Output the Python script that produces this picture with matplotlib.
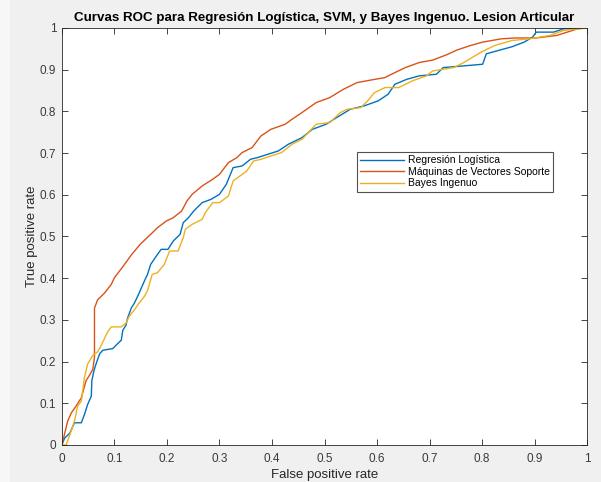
import matplotlib
matplotlib.use("Agg")
import matplotlib.pyplot as plt

title = "Curvas ROC para Regresión Logística, SVM, y Bayes Ingenuo. Lesion Articular"
labels = ["Regresión Logística", "Máquinas de Vectores Soporte", "Bayes Ingenuo"]
xticks = [0, 0.1, 0.2, 0.3, 0.4, 0.5, 0.6, 0.7, 0.8, 0.9, 1]
xtick_labels = ["0", "0.1", "0.2", "0.3", "0.4", "0.5", "0.6", "0.7", "0.8", "0.9", "1"]

lr_fpr = [0, 0.005, 0.015, 0.024, 0.037, 0.043, 0.049, 0.056, 0.057, 0.061, 0.065, 0.072, 0.078, 0.097,
          0.103, 0.113, 0.116, 0.122, 0.125, 0.132, 0.138, 0.147, 0.157, 0.163, 0.169, 0.182, 0.189, 0.202,
          0.212, 0.225, 0.231, 0.241, 0.251, 0.267, 0.284, 0.300, 0.313, 0.326, 0.343, 0.359, 0.372, 0.392,
          0.412, 0.431, 0.457, 0.477, 0.503, 0.523, 0.549, 0.575, 0.602, 0.621, 0.634, 0.657, 0.680, 0.713,
          0.726, 0.765, 0.801, 0.808, 0.831, 0.857, 0.880, 0.896, 0.903, 0.936, 0.955, 1.0]
lr_tpr = [0, 0.016, 0.028, 0.053, 0.053, 0.073, 0.097, 0.117, 0.154, 0.178, 0.194, 0.219, 0.227, 0.231,
          0.239, 0.251, 0.275, 0.287, 0.304, 0.328, 0.340, 0.364, 0.393, 0.409, 0.433, 0.457, 0.469, 0.469,
          0.489, 0.505, 0.533, 0.545, 0.561, 0.581, 0.589, 0.601, 0.625, 0.665, 0.669, 0.685, 0.689, 0.697,
          0.705, 0.721, 0.737, 0.757, 0.769, 0.785, 0.805, 0.813, 0.825, 0.841, 0.865, 0.877, 0.885, 0.889,
          0.905, 0.909, 0.913, 0.938, 0.946, 0.955, 0.966, 0.978, 0.990, 0.990, 0.998, 1.0]

svm_fpr = [0, 0.011, 0.018, 0.027, 0.037, 0.046, 0.054, 0.059, 0.062, 0.062, 0.068, 0.081, 0.094, 0.100,
           0.117, 0.133, 0.149, 0.169, 0.182, 0.199, 0.212, 0.228, 0.238, 0.248, 0.267, 0.287, 0.300, 0.317,
           0.333, 0.343, 0.362, 0.379, 0.398, 0.425, 0.438, 0.457, 0.484, 0.510, 0.536, 0.562, 0.588, 0.615,
           0.634, 0.654, 0.680, 0.706, 0.733, 0.752, 0.778, 0.801, 0.837, 0.864, 0.903, 0.942, 0.962, 0.982, 1.0]
svm_tpr = [0, 0.057, 0.077, 0.093, 0.113, 0.154, 0.170, 0.182, 0.210, 0.328, 0.348, 0.364, 0.385, 0.401,
           0.429, 0.457, 0.481, 0.505, 0.521, 0.537, 0.545, 0.561, 0.585, 0.601, 0.621, 0.637, 0.649, 0.677,
           0.689, 0.701, 0.713, 0.741, 0.757, 0.769, 0.781, 0.797, 0.821, 0.833, 0.853, 0.869, 0.875, 0.881,
           0.893, 0.905, 0.917, 0.923, 0.936, 0.947, 0.958, 0.966, 0.974, 0.976, 0.976, 0.982, 0.990, 0.998, 1.0]

nb_fpr = [0, 0.008, 0.015, 0.024, 0.030, 0.037, 0.043, 0.049, 0.059, 0.068, 0.075, 0.081, 0.087, 0.094,
          0.113, 0.122, 0.128, 0.138, 0.147, 0.157, 0.163, 0.172, 0.182, 0.195, 0.205, 0.221, 0.231, 0.235,
          0.248, 0.267, 0.273, 0.287, 0.300, 0.317, 0.326, 0.339, 0.352, 0.365, 0.379, 0.398, 0.418, 0.438,
          0.457, 0.484, 0.510, 0.530, 0.543, 0.569, 0.582, 0.595, 0.615, 0.641, 0.667, 0.694, 0.706, 0.746,
          0.765, 0.798, 0.824, 0.857, 0.890, 0.929, 0.955, 1.0]
nb_tpr = [0, 0.0, 0.024, 0.057, 0.093, 0.105, 0.162, 0.194, 0.215, 0.223, 0.239, 0.255, 0.271, 0.283,
          0.283, 0.292, 0.308, 0.324, 0.340, 0.356, 0.370, 0.409, 0.413, 0.433, 0.465, 0.465, 0.497, 0.517,
          0.529, 0.541, 0.557, 0.581, 0.581, 0.597, 0.633, 0.645, 0.657, 0.681, 0.685, 0.693, 0.701, 0.721,
          0.733, 0.769, 0.773, 0.797, 0.805, 0.809, 0.825, 0.845, 0.857, 0.857, 0.873, 0.885, 0.897, 0.905,
          0.917, 0.942, 0.958, 0.970, 0.974, 0.982, 0.994, 1.0]

colors = ["#0072BD", "#D95319", "#EDB120"]

plt.rcParams["font.family"] = ["Liberation Sans", "DejaVu Sans"]
fig = plt.figure(figsize=(6.01, 4.82), dpi=100, facecolor="#f0f0f0")
# slightly lighter strip on the left edge, as in the reference screenshot
fig.patches.append(plt.Rectangle((0, 0), 0.016, 1, transform=fig.transFigure,
                                 facecolor="#f7f7f7", edgecolor="none", zorder=-1))
ax = fig.add_axes([0.103, 0.077, 0.874, 0.865])
ax.set_facecolor("white")

ax.plot(lr_fpr, lr_tpr, color=colors[0], lw=1.0, label=labels[0])
ax.plot(svm_fpr, svm_tpr, color=colors[1], lw=1.0, label=labels[1])
ax.plot(nb_fpr, nb_tpr, color=colors[2], lw=1.0, label=labels[2])

ax.set_xlim(0, 1)
ax.set_ylim(0, 1)
ax.set_xticks(xticks)
ax.set_xticklabels(xtick_labels)
ax.set_yticks(xticks)
ax.set_yticklabels(xtick_labels)
ax.tick_params(direction="in", top=True, right=True, labelsize=8.5, length=4, width=0.6,
               colors="#262626", labelcolor="#3a3a3a")
ax.tick_params(axis="x", pad=6)
ax.tick_params(axis="y", pad=4)
for s in ax.spines.values():
    s.set_color("#262626")
    s.set_linewidth(0.6)

ax.set_xlabel("False positive rate", fontsize=9.5, color="#262626", labelpad=3)
ax.set_ylabel("True positive rate", fontsize=9.5, color="#262626", labelpad=1)
ax.set_title(title, fontsize=9.6, fontweight="bold", color="black", pad=5)

leg = ax.legend(loc="upper left", bbox_to_anchor=(0.562, 0.702), fontsize=7.5, frameon=True,
                fancybox=False, edgecolor="#262626", handlelength=4.2, handletextpad=0.4,
                borderpad=0.3, labelspacing=0.15, borderaxespad=0)
leg.get_frame().set_linewidth(0.8)

fig.savefig("out.png", dpi=100, facecolor=fig.get_facecolor())
